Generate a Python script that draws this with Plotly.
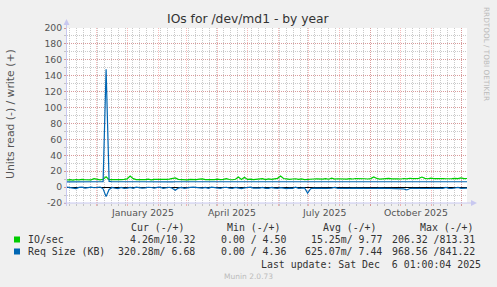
import pandas as pd
import plotly.graph_objects as go

# ---------------- data ----------------
start_date = "2024-11-02"
end_date = "2025-12-06"
step = "3D"

io_write = [8.9, 9.3, 8.7, 9.5, 9.1, 9.7, 9.2, 9.4, 9.0, 10.5,
            9.6, 9.2, 9.9, 13.0, 9.3, 9.1, 9.6, 8.9, 9.4, 9.7,
            10.4, 13.8, 10.6, 9.5, 9.2, 9.8, 9.3, 9.9, 9.1, 9.6,
            9.4, 10.1, 9.2, 9.7, 10.0, 10.5, 11.5, 9.7, 9.3, 9.5,
            9.1, 9.8, 9.4, 9.3, 9.9, 10.3, 9.5, 9.2, 9.7, 9.4,
            10.0, 9.3, 9.6, 10.7, 9.5, 9.2, 9.9, 12.6, 9.6, 12.5,
            9.7, 10.1, 9.3, 9.8, 10.0, 10.6, 9.5, 10.2, 9.6, 9.9,
            11.0, 13.8, 10.8, 10.4, 9.8, 10.2, 10.5, 9.7, 10.3, 9.5,
            10.0, 9.6, 10.2, 10.4, 9.8, 10.1, 10.7, 9.9, 11.2, 10.0,
            10.5, 10.1, 10.3, 10.0, 10.6, 10.2, 10.8, 10.4, 10.9, 10.5,
            10.2, 10.7, 12.8, 10.9, 10.1, 10.6, 10.4, 11.0, 10.3, 10.7,
            10.5, 10.2, 10.8, 10.4, 11.1, 10.6, 10.3, 10.9, 12.6, 10.9,
            10.5, 11.2, 10.6, 10.8, 11.3, 10.7, 10.5, 11.0, 10.6, 10.9,
            10.7, 11.5, 10.6, 10.8]

req_write = [6.6, 6.7, 6.6, 6.8, 6.7, 6.6, 6.7, 6.8, 6.7, 6.6,
             6.7, 6.7, 6.9, 148.0, 7.1, 6.7, 6.6, 6.7, 6.8, 6.7,
             6.6, 6.8, 6.7, 6.6, 6.7, 6.7, 6.6, 6.8, 6.7, 6.6,
             6.7, 6.6, 6.7, 6.8, 6.7, 6.6, 6.7, 6.7, 6.6, 6.7,
             6.8, 6.7, 6.6, 6.7, 6.7, 6.6, 6.7, 6.8, 6.7, 6.6,
             6.7, 6.6, 6.7, 6.7, 6.6, 6.7, 6.8, 6.7, 6.6, 6.7,
             6.7, 6.6, 6.7, 6.6, 6.7, 6.8, 6.7, 6.6, 6.7, 6.7,
             6.6, 6.7, 6.6, 6.7, 6.7, 6.6, 6.7, 6.6, 6.7, 6.6,
             6.5, 6.6, 6.6, 6.5, 6.6, 6.7, 6.6, 6.5, 6.6, 6.6,
             6.5, 6.6, 6.5, 6.6, 6.6, 6.5, 6.6, 6.5, 6.6, 6.5,
             6.6, 6.5, 6.6, 6.5, 6.5, 6.6, 6.5, 6.6, 6.5, 6.5,
             6.6, 6.5, 6.5, 6.6, 6.5, 6.5, 6.6, 6.5, 6.5, 6.6,
             6.5, 6.5, 6.6, 6.5, 6.5, 6.6, 6.5, 6.5, 6.6, 6.5,
             6.5, 6.6, 6.5, 6.7]

req_read = [0.0, -0.4, -1.6, -1.8, -0.3, 0.0, -1.2, -0.5, 0.0, -0.8,
            -0.3, 0.0, -2.2, -12.0, -3.0, -0.5, -1.5, -1.8, -0.4, -1.6,
            -1.2, -0.3, -1.5, 0.0, -0.6, -1.4, -1.0, -0.2, -0.5, -1.3,
            -0.4, 0.0, -1.5, -0.8, -0.2, -1.4, -4.0, -1.2, -0.5, -1.6,
            -1.4, -0.3, 0.0, -0.5, -1.6, -1.2, -0.4, -1.5, 0.0, -0.6,
            -1.4, -1.7, -0.5, -0.2, -1.3, -1.6, -0.4, -1.5, -1.8, -0.9,
            -0.3, 0.0, -1.2, -1.6, -1.4, -0.5, -1.7, -1.5, -0.4, -1.2,
            -1.6, -0.6, -1.4, -1.8, -1.3, -1.5, -0.2, -1.6, -1.4, -1.0,
            -7.5, -2.0, -1.4, -1.6, -1.8, -1.2, -1.5, -1.7, -1.4, -0.5,
            -1.5, -1.7, -1.4, -1.8, -1.6, -1.3, -1.5, -1.9, -1.6, -1.4,
            -1.7, -1.5, -1.8, -1.6, -1.4, -1.9, -1.6, -1.5, -1.8, -1.7,
            -1.5, -1.9, -2.2, -3.6, -1.8, -1.5, -1.7, -1.9, -1.6, -1.4,
            -1.8, -1.6, -1.5, -1.9, -1.7, -1.5, -0.4, -1.6, -1.8, -1.5,
            -0.3, -1.5, -1.7, -1.4]

month_labels = ["January 2025", "April 2025", "July 2025", "October 2025"]
month_label_dates = ["2025-01-16", "2025-04-16", "2025-07-16", "2025-10-16"]
y_ticks = [200, 180, 160, 140, 120, 100, 80, 60, 40, 20, 0, -20]

legend_header = ["Cur (-/+)", "Min (-/+)", "Avg (-/+)", "Max (-/+)"]
legend_rows = [
    ("IO/sec", "#00CC00", ["4.26m/10.32", "0.00 / 4.50", "15.25m/ 9.77", "206.32 /813.31"]),
    ("Req Size (KB)", "#0066B3", ["320.28m/ 6.68", "0.00 / 4.36", "625.07m/ 7.44", "968.56 /841.22"]),
]
last_update = "Last update: Sat Dec  6 01:00:04 2025"

# ---------------- layout helpers ----------------
W, H = 497, 287
PL, PR, PT, PB = 67, 467, 28, 203


def px(x):
    return (x - PL) / (PR - PL)


def py(y):
    return (PB - y) / (PB - PT)


dates = pd.date_range(start_date, periods=len(io_write), freq=step)

GREEN = "#00CC00"
BLUE = "#0066B3"

fig = go.Figure()
fig.add_trace(go.Scatter(x=dates, y=req_read, mode="lines",
                         line=dict(color=BLUE, width=1.2), hoverinfo="skip"))
fig.add_trace(go.Scatter(x=dates, y=io_write, mode="lines",
                         line=dict(color=GREEN, width=1.2), hoverinfo="skip"))
fig.add_trace(go.Scatter(x=dates, y=req_write, mode="lines",
                         line=dict(color=BLUE, width=1.2), hoverinfo="skip"))

month_grid = pd.date_range("2024-12-01", "2025-12-01", freq="MS")
week_grid = pd.date_range("2024-11-04", end_date, freq="7D")

MAJ = "rgba(235,90,90,0.42)"
MIN = "rgba(150,150,150,0.5)"
AXIS = "#C8C8F0"
DOT = "1px,1px"

fig.update_xaxes(range=[pd.Timestamp(start_date), pd.Timestamp(end_date)],
                 tickvals=month_grid, showticklabels=False,
                 showgrid=True, gridcolor=MAJ, griddash=DOT, gridwidth=1,
                 ticks="outside", ticklen=2, tickcolor=MAJ,
                 minor=dict(tickvals=week_grid, showgrid=True, gridcolor=MIN,
                            griddash=DOT, ticks="outside", ticklen=2, tickcolor=MIN),
                 showline=False, zeroline=False, fixedrange=True)
fig.update_yaxes(range=[-20, 200], tickvals=y_ticks,
                 ticktext=[str(v) for v in y_ticks],
                 showgrid=True, gridcolor=MAJ, griddash=DOT,
                 ticks="outside", ticklen=2, tickcolor=MAJ,
                 minor=dict(dtick=10, showgrid=True, gridcolor=MIN, griddash=DOT,
                            ticks="outside", ticklen=2, tickcolor=MIN),
                 zeroline=True, zerolinecolor="#000000", zerolinewidth=1.3,
                 tickfont=dict(family="DejaVu Sans", size=9.3, color="#555555"),
                 showline=False, fixedrange=True)

shapes = []
# axis lines with arrows
shapes.append(dict(type="line", xref="paper", yref="paper", x0=px(PL - 0.5), x1=px(PL - 0.5),
                   y0=py(PB + 3), y1=py(PT - 4), line=dict(color=AXIS, width=1)))
shapes.append(dict(type="line", xref="paper", yref="paper", x0=px(PL - 3), x1=px(PR + 5),
                   y0=py(PB), y1=py(PB), line=dict(color=AXIS, width=1)))
shapes.append(dict(type="path", xref="paper", yref="paper",
                   path=f"M {px(PL-3.5)} {py(PT-3)} L {px(PL+2.5)} {py(PT-3)} L {px(PL-0.5)} {py(PT-9)} Z",
                   fillcolor=AXIS, line=dict(width=0)))
shapes.append(dict(type="path", xref="paper", yref="paper",
                   path=f"M {px(PR+4)} {py(PB-3)} L {px(PR+4)} {py(PB+3)} L {px(PR+10)} {py(PB)} Z",
                   fillcolor=AXIS, line=dict(width=0)))
# legend swatches
for i, (name, col, vals) in enumerate(legend_rows):
    yc = 239.5 + i * 12
    shapes.append(dict(type="rect", xref="paper", yref="paper",
                       x0=px(14), x1=px(20), y0=py(yc + 3), y1=py(yc - 3),
                       fillcolor=col, line=dict(width=0)))

MONO = dict(family="DejaVu Sans Mono", size=9.9, color="#333333")
ann = []
ann.append(dict(text="IOs for /dev/md1 - by year", xref="paper", yref="paper",
                x=px(248.5), y=py(19), xanchor="center", yanchor="middle", showarrow=False,
                font=dict(family="DejaVu Sans", size=12.3, color="#333333")))
ann.append(dict(text="Units read (-) / write (+)", xref="paper", yref="paper",
                x=px(10), y=py(114), xanchor="center", yanchor="middle", textangle=-90,
                showarrow=False, font=dict(family="DejaVu Sans", size=10.8, color="#555555")))
ann.append(dict(text="RRDTOOL / TOBI OETIKER", xref="paper", yref="paper",
                x=px(487), y=py(54), xanchor="center", yanchor="middle", textangle=90,
                showarrow=False, font=dict(family="DejaVu Sans", size=7.3, color="#BBBBBB")))
for lab, d in zip(month_labels, month_label_dates):
    ann.append(dict(text=lab, xref="x", yref="paper", x=d, y=py(212),
                    xanchor="center", yanchor="middle", showarrow=False,
                    font=dict(family="DejaVu Sans", size=9.3, color="#555555")))
col_ends = [196.7, 287.7, 384, 477.3]
head_ends = [186.7, 283.3, 379.3, 476]
for h, xe in zip(legend_header, head_ends):
    ann.append(dict(text=h.replace(" ", "&nbsp;"), xref="paper", yref="paper", x=px(xe), y=py(227.5),
                    xanchor="right", yanchor="middle", showarrow=False, font=MONO))
for i, (name, col, vals) in enumerate(legend_rows):
    yc = 239.5 + i * 12
    ann.append(dict(text=name.replace(" ", "&nbsp;"), xref="paper", yref="paper", x=px(26), y=py(yc),
                    xanchor="left", yanchor="middle", showarrow=False, font=MONO))
    for v, xe in zip(vals, col_ends):
        ann.append(dict(text=v.replace(" ", "&nbsp;"), xref="paper", yref="paper", x=px(xe), y=py(yc),
                        xanchor="right", yanchor="middle", showarrow=False, font=MONO))
ann.append(dict(text=last_update.replace(" ", "&nbsp;"), xref="paper", yref="paper", x=px(482.5), y=py(264),
                xanchor="right", yanchor="middle", showarrow=False, font=MONO))
ann.append(dict(text="Munin 2.0.73", xref="paper", yref="paper", x=px(248), y=py(276.5),
                xanchor="center", yanchor="middle", showarrow=False,
                font=dict(family="DejaVu Sans", size=7.5, color="#BBBBBB")))

fig.update_layout(width=W, height=H, margin=dict(l=PL, r=W - PR, t=PT, b=H - PB, pad=0),
                  paper_bgcolor="#F0F0F0", plot_bgcolor="#FFFFFF", showlegend=False,
                  shapes=shapes, annotations=ann)

fig.write_html("out.html", config={"displayModeBar": False})
